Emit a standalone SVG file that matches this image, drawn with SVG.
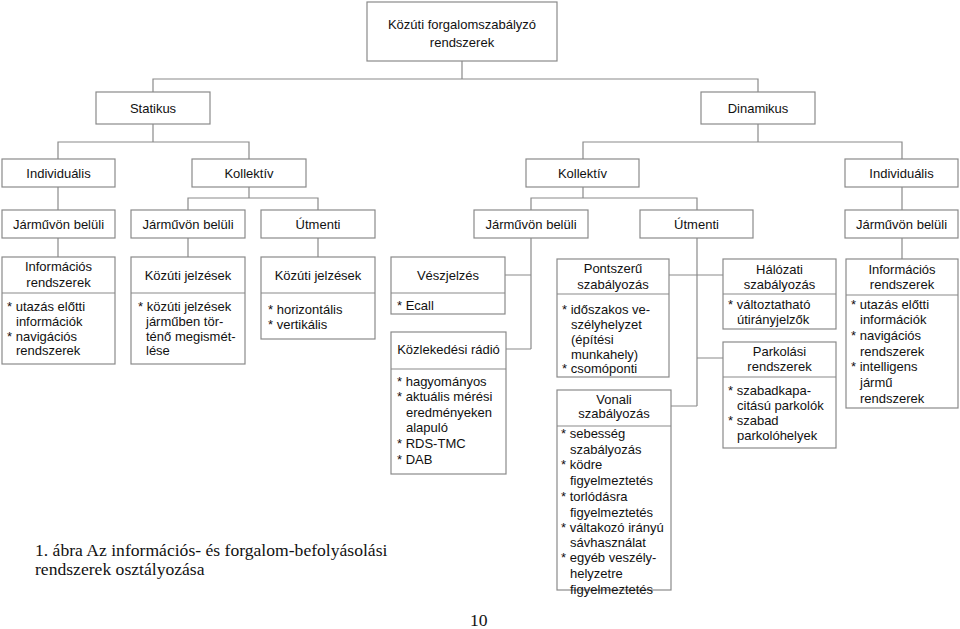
<svg xmlns="http://www.w3.org/2000/svg" width="960" height="629" viewBox="0 0 960 629">
<style>
.b{fill:#fff;stroke:#8a8a8a;stroke-width:1.2}
.s{stroke:#8a8a8a;stroke-width:1.2;fill:none}
.t{font-family:"Liberation Sans",Arial,sans-serif;font-size:13px;fill:#111}
.c{text-anchor:middle}
.cap{font-family:"Liberation Serif","Times New Roman",serif;font-size:17.6px;fill:#111}
</style>
<rect width="960" height="629" fill="#fff"/>
<g id="connectors" class="s">
<path d="M462 61V79M153 92V79H758V92"/>
<path d="M58 159V142H249V159M153 124V142"/>
<path d="M758 124V142M583 159V142H902V159"/>
<path d="M58 187V210"/>
<path d="M249 187V198M188 210V198H318V210"/>
<path d="M583 187V198M531 210V198H697V210"/>
<path d="M902 187V210"/>
<path d="M58 238V257M188 238V257M318 238V257"/>
<path d="M531 238V349M505 275H531M506 349H531"/>
<path d="M697 238V406M669 275H723M697 358H723M671 406H697"/>
<path d="M902 238V259"/>
</g>
<g id="root"><rect class="b" x="367" y="2" width="190" height="59"/>
<text class="t c" x="462" y="28.5">Közúti forgalomszabályzó</text>
<text class="t c" x="462" y="46.5">rendszerek</text></g>
<g id="statikus"><rect class="b" x="96" y="92" width="114" height="32"/><text class="t c" x="153" y="112.5">Statikus</text></g>
<g id="dinamikus"><rect class="b" x="701" y="92" width="114" height="32"/><text class="t c" x="758" y="112.5">Dinamikus</text></g>
<g id="individualis-s"><rect class="b" x="2" y="159" width="113" height="28"/><text class="t c" x="58.5" y="177.5">Individuális</text></g>
<g id="kollektiv-s"><rect class="b" x="192" y="159" width="114" height="28"/><text class="t c" x="249" y="177.5">Kollektív</text></g>
<g id="kollektiv-d"><rect class="b" x="526" y="159" width="113" height="28"/><text class="t c" x="582.5" y="177.5">Kollektív</text></g>
<g id="individualis-d"><rect class="b" x="845" y="159" width="113" height="28"/><text class="t c" x="901.5" y="177.5">Individuális</text></g>
<g id="jb1"><rect class="b" x="2" y="210" width="113" height="28"/><text class="t c" x="58.5" y="228.5">Járművön belüli</text></g>
<g id="jb2"><rect class="b" x="131" y="210" width="114" height="28"/><text class="t c" x="188" y="228.5">Járművön belüli</text></g>
<g id="ut1"><rect class="b" x="261" y="210" width="114" height="28"/><text class="t c" x="318" y="228.5">Útmenti</text></g>
<g id="jb3"><rect class="b" x="474" y="210" width="114" height="28"/><text class="t c" x="531" y="228.5">Járművön belüli</text></g>
<g id="ut2"><rect class="b" x="640" y="210" width="113" height="28"/><text class="t c" x="696.5" y="228.5">Útmenti</text></g>
<g id="jb4"><rect class="b" x="845" y="210" width="113" height="28"/><text class="t c" x="901.5" y="228.5">Járművön belüli</text></g>

<g id="info-s"><rect class="b" x="2" y="257" width="113" height="107"/><path class="s" d="M2 293H115"/>
<text class="t c" x="58.5" y="270.5">Információs</text><text class="t c" x="58.5" y="287">rendszerek</text>
<text class="t" x="7" y="311">* utazás előtti</text><text class="t" x="16" y="325.5">információk</text>
<text class="t" x="7" y="340.5">* navigációs</text><text class="t" x="16" y="355">rendszerek</text></g>
<g id="jelzes1"><rect class="b" x="131" y="257" width="114" height="107"/><path class="s" d="M131 293H245"/>
<text class="t c" x="188" y="279.5">Közúti jelzések</text>
<text class="t" x="138" y="311">* közúti jelzések</text><text class="t" x="146" y="325.5">járműben tör-</text>
<text class="t" x="146" y="340.5">ténő megismét-</text><text class="t" x="146" y="355">lése</text></g>
<g id="jelzes2"><rect class="b" x="261" y="257" width="114" height="82"/><path class="s" d="M261 293H375"/>
<text class="t c" x="318" y="279.5">Közúti jelzések</text>
<text class="t" x="268" y="313.5">* horizontális</text><text class="t" x="268" y="328.5">* vertikális</text></g>
<g id="veszjelzes"><rect class="b" x="391" y="257" width="114" height="57"/><path class="s" d="M391 293H505"/>
<text class="t c" x="448" y="279.5">Vészjelzés</text><text class="t" x="397" y="309.5">* Ecall</text></g>
<g id="radio"><rect class="b" x="391" y="332" width="115" height="142"/><path class="s" d="M391 369H506"/>
<text class="t c" x="448.5" y="353.8">Közlekedési rádió</text>
<text class="t" x="397" y="386">* hagyományos</text><text class="t" x="397" y="401">* aktuális mérési</text>
<text class="t" x="406" y="417">eredményeken</text><text class="t" x="406" y="432">alapuló</text>
<text class="t" x="397" y="448">* RDS-TMC</text><text class="t" x="397" y="463.5">* DAB</text></g>
<g id="pontszeru"><rect class="b" x="557" y="259" width="112" height="118"/><path class="s" d="M557 294H669"/>
<text class="t c" x="613" y="272.8">Pontszerű</text><text class="t c" x="613" y="288.5">szabályozás</text>
<text class="t" x="562" y="314">* időszakos ve-</text><text class="t" x="571" y="329">szélyhelyzet</text>
<text class="t" x="571" y="344">(építési</text><text class="t" x="571" y="358.5">munkahely)</text>
<text class="t" x="562" y="373">* csomóponti</text></g>
<g id="vonali"><rect class="b" x="557" y="390" width="114" height="200"/><path class="s" d="M557 426H671"/>
<text class="t c" x="614" y="403.5">Vonali</text><text class="t c" x="614" y="418">szabályozás</text>
<text class="t" x="561" y="437.5">* sebesség</text><text class="t" x="570" y="453.5">szabályozás</text>
<text class="t" x="561" y="468.5">* ködre</text><text class="t" x="570" y="484.5">figyelmeztetés</text>
<text class="t" x="561" y="500.5">* torlódásra</text><text class="t" x="570" y="516.5">figyelmeztetés</text>
<text class="t" x="561" y="531.5">* váltakozó irányú</text><text class="t" x="570" y="546.5">sávhasználat</text>
<text class="t" x="561" y="561.5">* egyéb veszély-</text><text class="t" x="570" y="577.5">helyzetre</text>
<text class="t" x="570" y="593.5">figyelmeztetés</text></g>
<g id="halozati"><rect class="b" x="723" y="259" width="113" height="70"/><path class="s" d="M723 294H836"/>
<text class="t c" x="779.5" y="273.5">Hálózati</text><text class="t c" x="779.5" y="288.8">szabályozás</text>
<text class="t" x="728" y="308.8">* változtatható</text><text class="t" x="737" y="323.8">útirányjelzők</text></g>
<g id="parkolasi"><rect class="b" x="723" y="342" width="113" height="106"/><path class="s" d="M723 377H836"/>
<text class="t c" x="779.5" y="356.2">Parkolási</text><text class="t c" x="779.5" y="371.2">rendszerek</text>
<text class="t" x="728" y="394.5">* szabadkapa-</text><text class="t" x="737" y="409.5">citású parkolók</text>
<text class="t" x="728" y="425">* szabad</text><text class="t" x="737" y="440">parkolóhelyek</text></g>
<g id="info-d"><rect class="b" x="846" y="259" width="112" height="149"/><path class="s" d="M846 295H958"/>
<text class="t c" x="902" y="273.5">Információs</text><text class="t c" x="902" y="288.8">rendszerek</text>
<text class="t" x="851" y="308.8">* utazás előtti</text><text class="t" x="860" y="323.8">információk</text>
<text class="t" x="851" y="339.5">* navigációs</text><text class="t" x="860" y="355.5">rendszerek</text>
<text class="t" x="851" y="371">* intelligens</text><text class="t" x="860" y="386.8">jármű</text>
<text class="t" x="860" y="402.8">rendszerek</text></g>
<g id="caption">
<text class="cap" x="35" y="555.5">1. ábra Az információs- és forgalom-befolyásolási</text>
<text class="cap" x="35" y="574.5">rendszerek osztályozása</text>
<text class="cap" x="470" y="626">10</text>
</g>
</svg>
